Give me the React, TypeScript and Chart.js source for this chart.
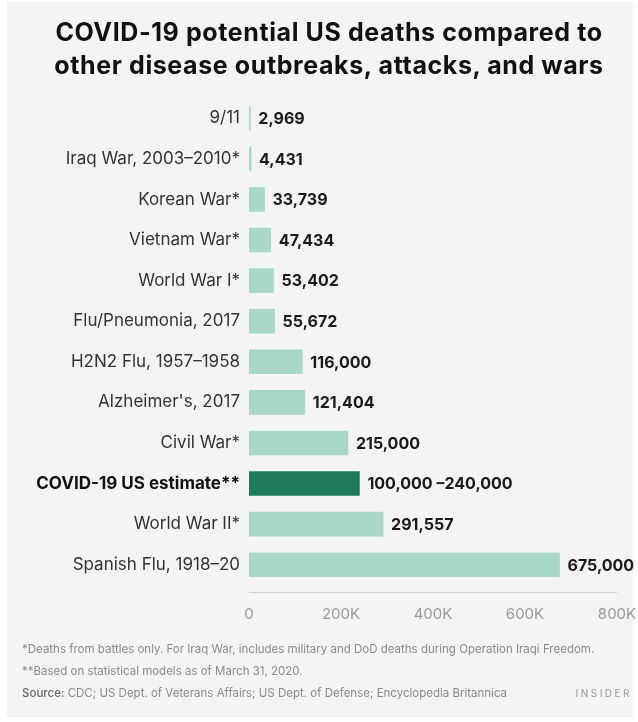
import React, { useEffect, useRef } from "react";
import { Chart, registerables } from "chart.js";

Chart.register(...registerables);

const categories = [
  "9/11",
  "Iraq War, 2003–2010*",
  "Korean War*",
  "Vietnam War*",
  "World War I*",
  "Flu/Pneumonia, 2017",
  "H2N2 Flu, 1957–1958",
  "Alzheimer's, 2017",
  "Civil War*",
  "COVID-19 US estimate**",
  "World War II*",
  "Spanish Flu, 1918–20",
];
const deaths = [2969, 4431, 33739, 47434, 53402, 55672, 116000, 121404, 215000, 240000, 291557, 675000];
const valueLabels = [
  "2,969",
  "4,431",
  "33,739",
  "47,434",
  "53,402",
  "55,672",
  "116,000",
  "121,404",
  "215,000",
  "100,000 –240,000",
  "291,557",
  "675,000",
];
const highlightIndex = 9;
const xTicks = [0, 200000, 400000, 600000, 800000];
const xTickLabels = ["0", "200K", "400K", "600K", "800K"];

const FONT = "Inter, Roboto, 'Noto Sans', sans-serif";

export default function App() {
  const ref = useRef<HTMLCanvasElement | null>(null);

  useEffect(() => {
    if (!ref.current) return;
    const valuePlugin = {
      id: "valueLabels",
      afterDatasetsDraw(chart: any) {
        const ctx = chart.ctx;
        const meta = chart.getDatasetMeta(0);
        ctx.save();
        ctx.font = `bold 16px ${FONT}`;
        ctx.fillStyle = "#1a1a1a";
        ctx.textAlign = "left";
        ctx.textBaseline = "middle";
        meta.data.forEach((el: any, i: number) => {
          ctx.fillText(valueLabels[i], el.x + 8, el.y + 1);
        });
        // x axis line, slightly below bars
        const area = chart.chartArea;
        ctx.strokeStyle = "#d0d0d0";
        ctx.lineWidth = 1;
        ctx.beginPath();
        ctx.moveTo(area.left, area.bottom + 7.5);
        ctx.lineTo(area.right, area.bottom + 7.5);
        ctx.stroke();
        ctx.restore();
      },
    };

    const chart = new Chart(ref.current, {
      type: "bar",
      data: {
        labels: categories,
        datasets: [
          {
            data: deaths,
            backgroundColor: deaths.map((_, i) => (i === highlightIndex ? "#1e7a5a" : "#a9d8cb")),
            borderWidth: 0,
            barThickness: 24,
          },
        ],
      },
      options: {
        indexAxis: "y",
        animation: false,
        responsive: false,
        maintainAspectRatio: false,
        layout: { padding: { top: 98, right: 21, left: 0, bottom: 0 } },
        plugins: { legend: { display: false }, tooltip: { enabled: false }, title: { display: false } },
        scales: {
          x: {
            min: 0,
            max: 800000,
            grid: { display: false, drawTicks: false },
            border: { display: false },
            afterBuildTicks: (scale: any) => {
              scale.ticks = xTicks.map((v) => ({ value: v }));
            },
            afterFit: (scale: any) => {
              scale.height = 137;
              scale.paddingLeft = 0;
              scale.paddingRight = 0;
            },
            ticks: {
              padding: 20,
              color: "#999999",
              font: { family: FONT, size: 15 },
              maxRotation: 0,
              callback: (v: any, i: number) => xTickLabels[i],
            },
          },
          y: {
            grid: { display: false, drawTicks: false },
            border: { display: false },
            afterFit: (scale: any) => {
              scale.width = 249;
              scale.paddingTop = 0;
              scale.paddingBottom = 0;
            },
            ticks: {
              padding: 9,
              color: (c: any) => (c.index === highlightIndex ? "#111111" : "#333333"),
              font: (c: any) => ({
                family: FONT,
                size: 17,
                weight: c.index === highlightIndex ? "bold" : "normal",
              }),
            },
          },
        },
      },
      plugins: [valuePlugin],
    });
    return () => chart.destroy();
  }, []);

  return (
    <div style={{ position: "absolute", left: 0, top: 0, width: 638, height: 722, background: "#ffffff", overflow: "hidden", fontFamily: FONT }}>
      <div style={{ position: "absolute", left: 7, top: 2, width: 626, height: 715, background: "#f4f4f4" }} />
      <canvas ref={ref} width={638} height={722} style={{ position: "absolute", left: 0, top: 0, width: 638, height: 722 }} />
      <div
        style={{
          position: "absolute",
          left: 10,
          top: 16,
          width: 638,
          textAlign: "center",
          fontWeight: 700,
          fontSize: 25,
          lineHeight: "33px",
          letterSpacing: 0.6,
          color: "#111111",
        }}
      >
        COVID-19 potential US deaths compared to
        <br />
        other disease outbreaks, attacks, and wars
      </div>
      <div style={{ position: "absolute", left: 22, top: 638, fontSize: 11.5, lineHeight: "22px", color: "#8a8a8a", width: 610 }}>
        <div>*Deaths from battles only. For Iraq War, includes military and DoD deaths during Operation Iraqi Freedom.</div>
        <div>**Based on statistical models as of March 31, 2020.</div>
        <div style={{ position: "relative" }}>
          <span style={{ color: "#666666", fontWeight: 500 }}>Source:</span> CDC; US Dept. of Veterans Affairs; US Dept. of Defense; Encyclopedia Britannica
          <span style={{ position: "absolute", right: 0, top: 0, letterSpacing: 2.5, fontSize: 10, color: "#999999" }}>INSIDER</span>
        </div>
      </div>
    </div>
  );
}
